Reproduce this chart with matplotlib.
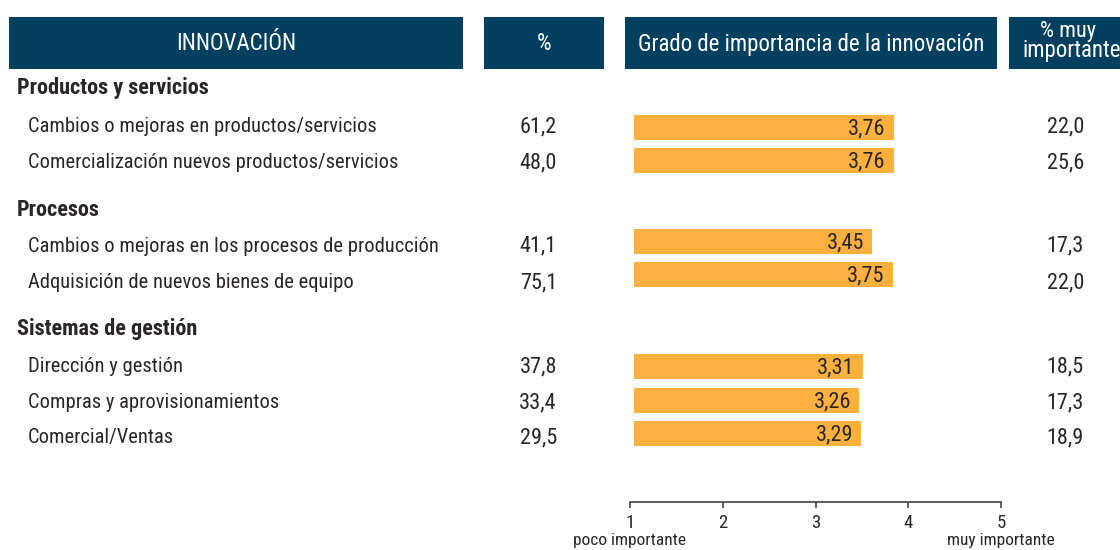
import matplotlib.pyplot as plt
from matplotlib.patches import Rectangle

plt.rcParams['font.family'] = ['Roboto Condensed', 'DejaVu Sans']
plt.rcParams['font.stretch'] = 'condensed'

# data
grupos = ['Productos y servicios', 'Procesos', 'Sistemas de gestión']
items = ['Cambios o mejoras en productos/servicios',
         'Comercialización nuevos productos/servicios',
         'Cambios o mejoras en los procesos de producción',
         'Adquisición de nuevos bienes de equipo',
         'Dirección y gestión',
         'Compras y aprovisionamientos',
         'Comercial/Ventas']
pct = [61.2, 48.0, 41.1, 75.1, 37.8, 33.4, 29.5]
grado = [3.76, 3.76, 3.45, 3.75, 3.31, 3.26, 3.29]
muy_imp = [22.0, 25.6, 17.3, 22.0, 18.5, 17.3, 18.9]
escala = [1, 2, 3, 4, 5]

# layout (pixels from top)
W, H = 1120, 550
grupo_y = [88, 210, 329]
fila_y = [127, 163, 246, 283, 367, 403, 438]
barra_y = [127.5, 160.5, 241.5, 274.5, 366.5, 400.5, 433.5]
navy = '#03405f'
naranja = '#fbb040'
txt = '#2a2627'
fs = 14.8
fs_num = 16
fs_head = 16.5

fig = plt.figure(figsize=(11.2, 5.5), dpi=100)
ax = fig.add_axes([0, 0, 1, 1])
ax.set_xlim(0, W)
ax.set_ylim(H, 0)
ax.axis('off')

# header boxes
cabeceras = [(9, 463, 'INNOVACIÓN'), (484, 604, '%'),
             (625, 997, 'Grado de importancia de la innovación'),
             (1009, 1125, None)]
for x0, x1, t in cabeceras:
    ax.add_patch(Rectangle((x0, 17), x1 - x0, 52, color=navy, lw=0))
    if t:
        ax.text((x0 + x1) / 2, 44, t, color='white', fontsize=fs_head,
                ha='center', va='center')
ax.text(1068, 31, '% muy', color='white', fontsize=16, ha='center', va='center')
ax.text(1072, 51, 'importante', color='white', fontsize=16.5, ha='center', va='center')

for g, y in zip(grupos, grupo_y):
    ax.text(17, y, g, fontsize=16, fontweight='bold', color=txt, va='center')

for i, y in enumerate(fila_y):
    ax.text(28, y, items[i], fontsize=fs, color=txt, va='center')
    ax.text(557, y, f'{pct[i]:.1f}'.replace('.', ','), fontsize=fs_num,
            color=txt, va='center', ha='right')
    ax.text(1084, y, f'{muy_imp[i]:.1f}'.replace('.', ','), fontsize=fs_num,
            color=txt, va='center', ha='right')

# bars
bx = fig.add_axes([634 / W, 0, (W - 634) / W, 1])
bx.set_xlim(0, (W - 634) / 69.1)
bx.set_ylim(H, 0)
bx.axis('off')
bx.barh(barra_y, grado, height=25, color=naranja, lw=0)
for v, y in zip(grado, barra_y):
    bx.annotate(f'{v:.2f}'.replace('.', ','), (v, y + 1.5), xytext=(-6, 0),
                textcoords='offset points', ha='right', va='center',
                fontsize=fs_num, color=txt)

# scale
sx = fig.add_axes([630 / W, 1 - 502 / H, 371 / W, 0.001])
sx.set_xlim(1, 5)
sx.set_yticks([])
for s in ['top', 'left', 'right']:
    sx.spines[s].set_visible(False)
sx.spines['bottom'].set_color('#444444')
sx.spines['bottom'].set_linewidth(1.2)
sx.set_xticks(escala)
sx.tick_params(axis='x', direction='out', length=4.5, width=1.2,
               color='#444444', labelsize=13.5, labelcolor=txt, pad=4)
for xv, t in [(1, 'poco importante'), (5, 'muy importante')]:
    sx.annotate(t, (xv, 0), xycoords=sx.get_xaxis_transform(),
                xytext=(0, -28), textcoords='offset points',
                ha='center', va='center', fontsize=12.5, color=txt)
sx.patch.set_alpha(0)

fig.savefig('out.png', dpi=100)
